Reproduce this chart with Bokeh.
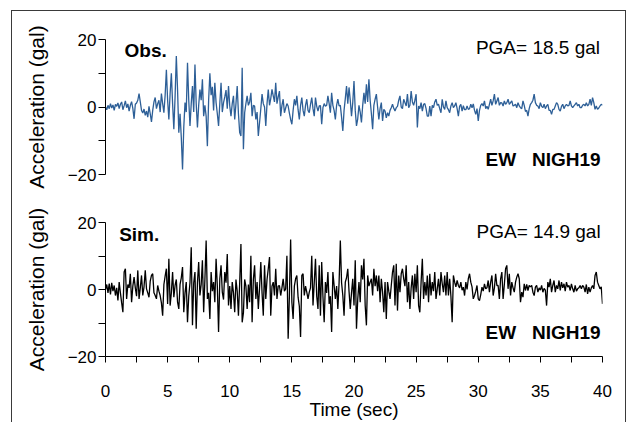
from bokeh.plotting import figure
from bokeh.models import Range1d, FixedTicker, Label
from bokeh.layouts import column
from bokeh.embed import file_html
from bokeh.resources import INLINE

DT = 0.1  # sampling interval (s)

obs = [
    0.0, -0.8, 0.5, -0.5, 1.0, -0.3, 0.6, -1.0, 0.8, 0.2,
    1.2, -0.5, 0.8, 1.5, -0.8, 0.4, 1.8, -0.2, 0.9, -1.2,
    0.5, 1.6, -0.4, -3.5, 0.8, 1.2, 2.0, 4.0, 1.5, -1.0,
    -1.8, -0.6, -2.5, -1.2, -3.0, 0.2, -2.0, -4.4, -1.0, 1.5,
    2.8, -0.5, 1.0, 2.0, -1.5, 4.0, 1.0, -1.7, 3.5, 11.0,
    2.0, -3.7, 4.0, 10.0, 1.0, -6.6, 3.0, 15.1, 5.0, -7.6,
    -2.0, -9.0, -18.5, -6.0, 1.3, -1.5, 13.1, 2.0, -5.6, 1.0,
    6.2, -1.5, 12.6, 1.0, -6.1, 0.5, 5.2, 2.0, 8.2, -2.7,
    0.5, -2.7, -11.6, 2.0, 10.0, 3.5, 6.0, -1.0, 7.2, 1.3,
    -2.0, -5.6, 1.0, 7.2, -1.5, 1.3, 3.0, 5.0, -0.5, 6.2,
    0.3, -2.7, 1.0, 3.3, -3.7, 1.0, 6.2, -2.0, -7.6, -8.6,
    11.6, -12.5, -1.7, 1.0, 3.3, 0.5, 1.5, 4.2, -2.7, 0.5,
    0.3, -3.7, -1.5, -8.6, -4.6, -0.5, 3.8, 1.0, 0.0, -5.6,
    1.0, 5.2, 0.5, 2.5, 5.2, 3.3, 1.5, 7.2, 1.0, 3.0,
    4.7, -2.7, 0.5, 2.3, -1.7, -0.3, 1.0, 0.3, -1.8, -3.7,
    -5.1, -1.0, 2.3, 0.5, 3.3, -0.8, -3.7, 0.5, 2.8, -1.0,
    -2.7, 0.5, 2.3, -1.0, -1.7, 0.8, 2.8, -0.5, -2.7, 2.8,
    0.2, -1.2, 0.3, 0.4, -5.1, -0.2, 1.0, 0.2, 0.5, 3.3,
    1.0, -1.7, 4.2, 0.5, -1.0, -3.7, 0.5, 2.3, 0.3, 0.5,
    -3.0, -7.1, -1.0, 2.5, 6.2, 1.0, 5.8, 2.0, -2.7, 1.3,
    7.7, -1.0, -5.6, -3.5, 0.5, -1.5, -4.6, 0.5, 4.2, 1.0,
    6.7, 1.5, 8.2, 2.0, -2.0, -6.6, 0.5, 2.3, 3.8, 0.0,
    -3.7, -0.5, 1.3, -4.1, -0.7, -1.2, -3.2, -1.7, -2.7, -1.0,
    -0.2, 0.8, -0.4, -1.2, -0.2, 0.2, 2.0, 3.3, 0.0, -0.5,
    2.3, 1.3, 0.3, 3.8, -0.2, 0.5, 4.7, 1.5, 0.5, 2.0,
    3.8, -6.1, 0.3, -0.5, 1.3, -1.2, 0.8, 1.0, -0.5, -2.7,
    -2.7, 0.3, -2.7, 0.5, -0.2, 1.5, 2.3, 0.5, 0.8, -0.5,
    -1.7, 2.3, 0.0, -0.7, 1.8, -0.2, -0.8, -1.7, 0.3, 1.3,
    -0.2, 0.3, 1.3, -0.5, -2.7, 0.2, 0.8, -1.2, 0.4, -0.8,
    -0.8, 0.3, -0.7, -0.5, 0.8, -0.2, 0.9, -1.0, -2.2, -0.5,
    -4.1, -1.0, 0.5, 1.0, 0.3, 1.8, -0.5, 0.2, -0.7, 0.8,
    2.3, 0.5, 1.8, 3.8, 0.8, 1.8, 2.8, 0.5, 1.3, 1.2,
    0.3, 1.8, 0.8, 1.3, 2.3, 0.8, 1.3, 1.8, 0.3, 0.5,
    0.8, -0.2, 1.3, 0.3, -0.2, -0.5, 1.8, 0.5, -1.3, -1.0,
    -2.7, -0.5, 0.8, 1.3, 2.0, 3.8, 1.3, 0.5, 0.3, -0.5,
    1.3, 0.2, -0.2, 0.8, -0.5, 0.3, 0.8, -1.0, -1.0, -2.2,
    -0.7, -0.7, 0.3, 1.3, 0.8, -0.7, -1.2, 0.2, 0.8, -0.5,
    0.3, 0.8, 0.3, 0.5, 1.8, 0.3, -0.2, 0.3, 0.8, 1.3,
    0.3, 0.8, -0.2, -0.2, 0.5, 0.8, 0.3, 1.3, 0.3, 0.8,
    2.3, 0.5, 2.8, 1.3, -0.7, 0.3, -0.7, -0.3, 0.3, 0.8,
    0.5,
]

# Simulated EW acceleration at NIGH19 (gal), one value per 0.1 s
sim = [
    0.0, 1.5, -1.0, 1.8, -1.5, 2.0, -0.5, 1.2, -1.8, 0.5,
    -3.3, 2.2, -1.0, -4.0, -6.8, 5.2, 6.2, -2.8, 1.5, 0.5,
    4.7, -3.8, 1.0, 3.7, 0.5, -2.0, 5.7, -2.8, 0.5, 4.2,
    -1.8, 0.8, 5.7, 0.2, -1.0, -2.3, 2.5, 4.2, 4.7, -1.0,
    -1.8, -2.8, 1.2, -0.5, -1.8, -4.0, -7.8, 1.5, 4.0, 6.2,
    -4.3, 9.2, -4.8, -1.0, 5.2, -2.3, 1.2, 3.0, -3.8, -5.8,
    1.5, 3.5, 6.7, -6.8, -1.0, 2.2, -9.8, -2.0, 2.0, 12.6,
    -10.7, 2.0, 5.2, -11.7, 2.0, 8.2, -1.8, 1.5, 8.7, -6.8,
    3.0, 14.6, -2.8, -1.0, -8.8, 5.2, -0.5, 2.2, -3.8, 9.2,
    1.0, -12.7, 3.2, 7.2, -0.8, -3.0, 5.2, 2.0, 10.6, -4.8,
    1.0, -5.8, 2.2, -1.0, -6.8, 3.0, -0.5, -7.8, 2.0, 13.6,
    -9.8, -7.0, 3.0, 1.0, -5.8, 1.5, -3.8, 10.1, -9.8, 3.0,
    7.2, -2.8, 2.2, -5.8, 0.5, 8.2, -1.0, -7.8, 7.2, -2.8,
    3.0, 6.2, 9.7, -7.8, 1.0, 2.2, -1.8, 6.2, -2.8, 1.0,
    1.2, -1.8, 0.5, 3.2, -0.5, 0.2, 10.1, -14.7, -2.0, 14.9,
    -3.8, -8.8, 1.0, 3.2, 4.2, -2.3, -5.0, -14.2, 4.2, 4.7,
    -1.8, 1.0, -0.8, -2.8, -0.8, 0.5, 10.1, -4.8, 2.0, 9.2,
    -2.0, -5.8, 7.2, -7.8, 8.2, -2.0, -9.8, 2.2, -1.0, 5.2,
    -4.3, -2.0, -12.7, 5.2, 1.2, -2.8, 1.0, -5.8, 2.0, 14.6,
    2.0, -1.8, -7.8, 2.2, 3.5, 6.2, -0.5, -5.8, -1.0, 3.2,
    -4.8, 8.7, -11.7, -3.0, 2.2, -3.8, 7.2, 3.0, 9.2, -4.8,
    -10.7, 4.2, 1.0, 2.2, 3.2, -1.8, 6.2, 1.0, 4.2, -0.5,
    4.2, -3.8, 3.2, -0.8, -6.8, 2.2, -8.8, 2.2, -0.5, -2.8,
    1.2, 5.2, 7.2, -4.8, 7.7, -6.3, 4.2, -0.8, 4.7, 6.2,
    3.2, 1.0, 7.2, -3.8, 2.2, -5.8, 0.5, 4.2, -2.8, 4.7,
    -0.8, 7.2, -4.8, -6.8, 2.2, 9.2, -2.8, 2.2, -1.8, 4.2,
    -3.8, 4.7, -1.8, 2.2, -0.5, 5.2, -2.8, 0.2, 3.2, -1.8,
    5.2, 1.8, -0.8, 4.2, -1.8, 5.2, -1.8, 3.2, -2.0, -9.8,
    4.2, 2.2, 0.8, 2.7, 1.2, 0.5, 2.2, -0.2, 0.7, -1.8,
    2.2, 0.0, 3.2, 4.7, 2.2, 0.8, -2.8, -1.8, -0.5, 1.2,
    -2.8, -3.3, -1.5, 0.7, -0.5, 1.7, 0.2, 0.5, 2.7, -0.8,
    2.2, 4.2, -1.8, 0.5, 4.7, 1.2, 1.2, -2.8, 3.2, 5.2,
    -2.8, 1.5, 6.2, 7.2, 0.2, 4.7, -1.8, 2.2, 0.5, -0.8,
    2.2, 3.7, 4.7, 3.2, -3.8, -0.8, -2.3, 1.7, -0.3, 1.5,
    -0.3, 1.2, 0.8, 1.2, -0.8, -1.8, 0.7, 1.2, -0.8, 0.5,
    -0.2, 1.2, -0.8, 0.3, -0.2, -4.8, 2.2, 0.7, 3.2, -0.8,
    1.2, 2.7, -0.8, 1.2, 0.2, 2.7, -0.3, 2.2, 0.5, 1.7,
    -0.5, 2.2, 0.7, 1.2, -0.3, 1.7, 0.2, -0.8, 1.2, -0.5,
    0.2, 0.5, 1.2, 0.2, 1.2, 0.7, -0.8, 1.5, -1.3, 0.7,
    -0.8, 0.5, 1.2, 0.2, 4.2, 5.2, 2.2, 1.2, 0.2, 0.8,
    -4.3,
]

x_ticks = [0, 5, 10, 15, 20, 25, 30, 35, 40]
x_minor = [2.5, 7.5, 12.5, 17.5, 22.5, 27.5, 32.5, 37.5]
y_ticks = [-20, 0, 20]
y_minor = [-10, 10]

panels = [
    dict(name="Obs.", values=obs, pga="PGA= 18.5 gal", color="#2d5f97",
         name_pos=(1.53, 16.6), pga_pos=(39.8, 17.6), tag_pos=(39.85, -15.7)),
    dict(name="Sim.", values=sim, pga="PGA= 14.9 gal", color="#000000",
         name_pos=(1.1, 16.4), pga_pos=(39.85, 17.3), tag_pos=(39.85, -12.7)),
]
station = "EW\u00a0\u00a0\u00a0NIGH19"

FONT = "Liberation Sans"


def make_panel(cfg, bottom_axis):
    t = [round(i * DT, 1) for i in range(len(cfg["values"]))]
    p = figure(
        frame_width=497,
        frame_height=135 if not bottom_axis else 134,
        min_border_left=93,
        min_border_right=23,
        min_border_top=28,
        min_border_bottom=65 if bottom_axis else 20,
        x_range=Range1d(0, 40),
        y_range=Range1d(-20, 20),
        x_axis_location="below" if bottom_axis else None,
        output_backend="svg",
        toolbar_location=None,
        background_fill_color="white",
        border_fill_color="white",
    )
    p.outline_line_color = None
    p.grid.visible = False
    p.line(t, cfg["values"], line_color=cfg["color"], line_width=1.3)

    ya = p.yaxis[0]
    ya.ticker = FixedTicker(ticks=y_ticks, minor_ticks=y_minor)
    ya.axis_label = "Acceleration (gal)"
    ya.axis_label_text_font = FONT
    ya.axis_label_text_font_size = "21px"
    ya.axis_label_text_font_style = "normal"
    ya.axis_label_text_color = "black"
    ya.axis_label_standoff = 17
    ya.major_label_text_font = FONT
    ya.major_label_text_font_size = "17px"
    ya.major_label_text_color = "black"
    ya.major_label_standoff = 2
    ya.major_tick_out = 7
    ya.major_tick_in = 0
    ya.minor_tick_out = 7
    ya.minor_tick_in = 0
    ya.axis_line_color = "black"
    ya.major_tick_line_color = "black"
    ya.minor_tick_line_color = "black"

    if bottom_axis:
        xa = p.xaxis[0]
        xa.ticker = FixedTicker(ticks=x_ticks, minor_ticks=x_minor)
        xa.axis_label = "Time (sec)"
        xa.axis_label_text_font = FONT
        xa.axis_label_text_font_size = "19px"
        xa.axis_label_text_font_style = "normal"
        xa.axis_label_text_color = "black"
        xa.axis_label_standoff = -1
        xa.major_label_text_font = FONT
        xa.major_label_text_font_size = "17px"
        xa.major_label_text_color = "black"
        xa.major_label_standoff = 22
        xa.major_tick_out = 6
        xa.major_tick_in = 0
        xa.minor_tick_out = 6
        xa.minor_tick_in = 0
        xa.axis_line_color = "black"
        xa.major_tick_line_color = "black"
        xa.minor_tick_line_color = "black"

    p.add_layout(Label(x=cfg["name_pos"][0], y=cfg["name_pos"][1], text=cfg["name"],
                       text_align="left", text_baseline="middle", text_font=FONT,
                       text_font_size="19px", text_font_style="bold", text_color="black"))
    p.add_layout(Label(x=cfg["pga_pos"][0], y=cfg["pga_pos"][1], text=cfg["pga"],
                       text_align="right", text_baseline="middle", text_font=FONT,
                       text_font_size="19px", text_color="black"))
    p.add_layout(Label(x=cfg["tag_pos"][0], y=cfg["tag_pos"][1], text=station,
                       text_align="right", text_baseline="middle", text_font=FONT,
                       text_font_size="19px", text_font_style="bold", text_color="black"))
    return p


p1 = make_panel(panels[0], bottom_axis=False)
p2 = make_panel(panels[1], bottom_axis=True)

layout = column(
    p1, p2,
    margin=(10, 0, 0, 11),
    styles={
        "border-top": "1px solid #3a3a3a",
        "border-left": "1px solid #3a3a3a",
        "border-right": "1px solid #3a3a3a",
        "background-color": "white",
    },
)

open("out.html", "w").write(file_html(layout, INLINE))
